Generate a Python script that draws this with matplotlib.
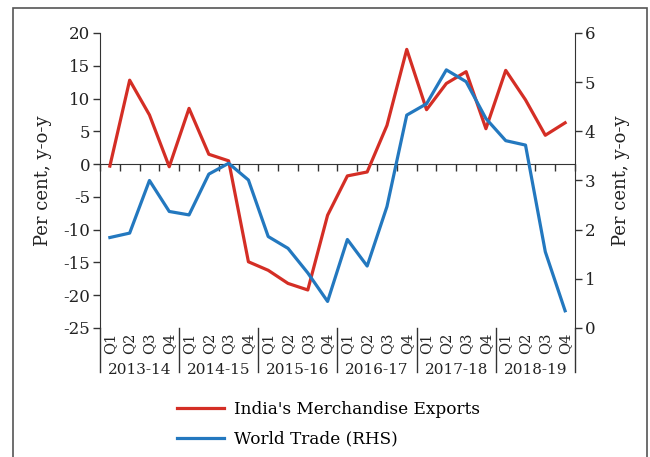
import numpy as np
import matplotlib.pyplot as plt
from matplotlib.patches import Rectangle
import matplotlib.transforms as mtransforms

plt.rcParams['font.family'] = ['DejaVu Serif']
plt.rcParams['axes.unicode_minus'] = False

# -----------------------------
# Data
# -----------------------------
years = ["2013-14", "2014-15", "2015-16", "2016-17", "2017-18", "2018-19"]
quarters = ["Q1", "Q2", "Q3", "Q4"]

india_exports = [-0.3, 12.8, 7.5, -0.4,
                 8.5, 1.5, 0.5, -14.9,
                 -16.2, -18.2, -19.2, -7.8,
                 -1.8, -1.2, 5.9, 17.5,
                 8.3, 12.3, 14.1, 5.4,
                 14.3, 9.8, 4.4, 6.3]

world_trade = [1.84, 1.93, 3.00, 2.37,
               2.30, 3.13, 3.35, 3.01,
               1.86, 1.62, 1.12, 0.54,
               1.80, 1.26, 2.47, 4.33,
               4.56, 5.25, 5.01, 4.26,
               3.81, 3.72, 1.55, 0.35]

red = "#d42e25"
blue = "#2378bf"

n = len(india_exports)
x = np.arange(n) + 0.5

fig = plt.figure(figsize=(6.5, 4.57), dpi=100)
ax = fig.add_axes([0.1538, 0.2823, 0.7308, 0.6455])
ax2 = ax.twinx()

l1, = ax.plot(x, india_exports, color=red, lw=2.3,
              label="India's Merchandise Exports", zorder=3)
l2, = ax2.plot(x, world_trade, color=blue, lw=2.3,
               label="World Trade (RHS)", zorder=3)

ax.set_xlim(0, n)
ax.set_ylim(-25, 20)
ax.set_yticks(np.arange(-25, 21, 5))
ax2.set_ylim(0, 6)
ax2.set_yticks(np.arange(0, 7, 1))

for a in (ax, ax2):
    a.spines['top'].set_visible(False)
ax.spines['right'].set_visible(False)
ax2.spines['left'].set_visible(False)
ax2.spines['bottom'].set_visible(False)

# zero line with quarter ticks
ax.spines['bottom'].set_position(('data', 0))
ax.set_xticks(np.arange(0, n + 1))
ax.set_xticklabels([])
ax.tick_params(axis='x', direction='out', length=5, width=1, color='#333333')
ax.tick_params(axis='y', direction='out', length=5, width=1, color='#333333',
               labelsize=12, pad=2, labelcolor='#222222')
ax2.tick_params(axis='y', direction='out', length=5, width=1, color='#333333',
                labelsize=12, pad=2, labelcolor='#222222')
for s in ('left', 'bottom'):
    ax.spines[s].set_color('#333333')
ax2.spines['right'].set_color('#333333')

ax.set_ylabel("Per cent, y-o-y", fontsize=13, labelpad=8, color='#222222')
ax2.set_ylabel("Per cent, y-o-y", fontsize=13, labelpad=12, color='#222222')

# category labels
trans = mtransforms.blended_transform_factory(ax.transData, ax.transAxes)
for i in range(n):
    ax.text(x[i], -0.015, quarters[i % 4], rotation=90, ha='center', va='top',
            fontsize=10.5, transform=trans, color='#222222')
for k, yr in enumerate(years):
    ax.text(4 * k + 2, -0.142, yr, ha='center', va='center', fontsize=11,
            transform=trans, color='#222222')
for k in range(len(years) + 1):
    ax.plot([4 * k, 4 * k], [0, -0.15], color='#333333', lw=1,
            transform=trans, clip_on=False)

fig.legend(handles=[l1, l2], loc='upper left',
           bbox_to_anchor=(0.272, 0.123), frameon=False, fontsize=12.2,
           handlelength=2.8, handletextpad=0.55, borderaxespad=0,
           borderpad=0, labelspacing=0.75)

fig.patches.append(Rectangle((0.02, -0.1), 0.975, 1.0825, transform=fig.transFigure,
                             fill=False, edgecolor='#555555', lw=1.2))

fig.savefig("out.png", dpi=100)
